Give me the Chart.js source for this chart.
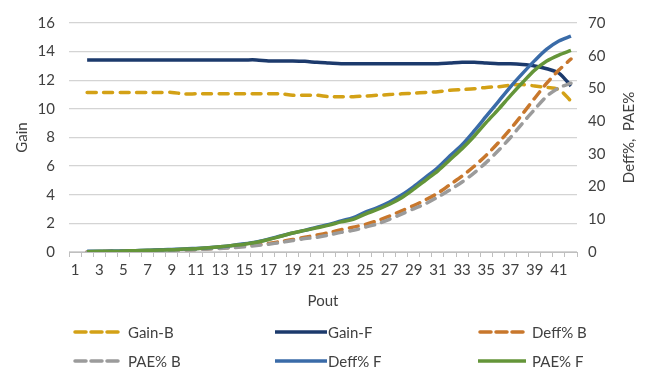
<!DOCTYPE html>
<html>
<head>
<meta charset="utf-8">
<script src="https://cdn.jsdelivr.net/npm/chart.js@4"></script>
<style>
  html, body { margin: 0; padding: 0; background: #ffffff; }
  #wrap { width: 650px; height: 372px; }
</style>
</head>
<body>
<div id="wrap"><canvas id="chart" width="650" height="372"></canvas></div>
<script>
// Output power steps (category axis)
const poutSteps = ['1','2','3','4','5','6','7','8','9','10','11','12','13','14','15','16','17','18','19','20','21',
  '22','23','24','25','26','27','28','29','30','31','32','33','34','35','36','37','38','39','40','41','42'];

// Gain (dB) — left axis; first step has no measurement
const gainB = [null, 11.15, 11.15, 11.15, 11.15, 11.15, 11.15, 11.15, 11.15, 11.05, 11.05, 11.05, 11.05, 11.05, 11.05,
  11.05, 11.05, 11.05, 10.95, 10.95, 10.95, 10.85, 10.85, 10.85, 10.9, 10.95, 11.0, 11.05, 11.1, 11.15, 11.2,
  11.3, 11.35, 11.4, 11.5, 11.55, 11.65, 11.7, 11.6, 11.5, 11.35, 10.55];
const gainF = [null, 13.42, 13.42, 13.42, 13.42, 13.42, 13.42, 13.42, 13.42, 13.42, 13.42, 13.42, 13.42, 13.42, 13.42,
  13.42, 13.35, 13.35, 13.35, 13.32, 13.25, 13.2, 13.15, 13.15, 13.15, 13.15, 13.15, 13.15, 13.15, 13.15, 13.15,
  13.2, 13.25, 13.25, 13.2, 13.15, 13.15, 13.1, 13.0, 12.8, 12.5, 11.6];

// Drain efficiency and PAE (%) — right axis
const deffB = [null, 0.1, 0.1, 0.2, 0.2, 0.3, 0.4, 0.5, 0.6, 0.7, 0.8, 1.0, 1.2, 1.5, 1.8,
  2.2, 2.6, 3.2, 3.8, 4.5, 5.2, 5.9, 6.8, 7.6, 8.4, 9.6, 11.0, 12.6, 14.2, 16.0, 18.0,
  20.6, 23.2, 26.2, 29.6, 33.4, 37.6, 42.2, 47.0, 51.6, 55.6, 59.0];
const paeB = [null, 0.1, 0.1, 0.1, 0.2, 0.2, 0.3, 0.4, 0.5, 0.6, 0.7, 0.9, 1.1, 1.3, 1.6,
  2.0, 2.4, 2.9, 3.5, 4.1, 4.5, 5.2, 6.0, 6.6, 7.6, 8.6, 10.0, 11.6, 13.2, 14.8, 16.8,
  19.0, 21.4, 24.2, 27.4, 31.0, 35.0, 39.4, 43.6, 47.6, 50.2, 51.6];
const deffF = [null, 0.2, 0.2, 0.3, 0.3, 0.4, 0.5, 0.7, 0.8, 0.9, 1.1, 1.3, 1.6, 2.0, 2.5,
  3.1, 3.9, 4.9, 5.8, 6.6, 7.6, 8.4, 9.5, 10.5, 12.2, 13.6, 15.3, 17.4, 20.0, 22.9, 25.8,
  29.4, 32.8, 37.0, 41.5, 46.0, 50.5, 54.6, 58.5, 62.0, 64.5, 66.0];
const paeF = [null, 0.1, 0.2, 0.2, 0.3, 0.4, 0.5, 0.6, 0.7, 0.9, 1.0, 1.3, 1.6, 2.0, 2.4,
  3.0, 3.8, 4.8, 5.8, 6.6, 7.4, 8.2, 9.2, 10.0, 11.6, 13.0, 14.6, 16.6, 19.2, 22.0, 24.8,
  28.2, 31.6, 35.4, 39.6, 43.6, 47.8, 51.8, 55.6, 58.4, 60.2, 61.6];

// Axis tick values
const gainTicks = [0, 2, 4, 6, 8, 10, 12, 14, 16];
const effTicks = [0, 10, 20, 30, 40, 50, 60, 70];

const FONT = 'Lato, "Liberation Sans", sans-serif';
const TEXT = '#404040';
const DASH = [9, 7.5];

function series(label, data, axis, color, dashed, order) {
  return {
    label, data, yAxisID: axis,
    borderColor: color, backgroundColor: color,
    borderWidth: 3.5,
    borderDash: dashed ? DASH : [],
    borderCapStyle: dashed ? 'round' : 'butt',
    borderJoinStyle: 'round',
    pointRadius: 0, pointHoverRadius: 0,
    tension: 0.3, spanGaps: false, fill: false,
    order
  };
}

// Legend laid out as a 3 x 2 grid under the axis title
const gridLegend = {
  id: 'gridLegend',
  afterDraw(chart) {
    const ctx = chart.ctx;
    const cols = [
      { x: 73, len: 47, text: 128 },
      { x: 275, len: 52, text: 328 },
      { x: 478, len: 48, text: 532 }
    ];
    const rows = [332, 361];
    ctx.save();
    ctx.font = '15px ' + FONT;
    ctx.textBaseline = 'middle';
    ctx.textAlign = 'left';
    chart.data.datasets.forEach((ds, i) => {
      const c = cols[i % 3];
      const y = rows[Math.floor(i / 3)];
      const dashed = ds.borderDash && ds.borderDash.length > 0;
      ctx.strokeStyle = ds.borderColor;
      ctx.lineWidth = ds.borderWidth;
      ctx.lineCap = dashed ? 'round' : 'butt';
      ctx.setLineDash(dashed ? [11, 5] : []);
      ctx.beginPath();
      if (dashed) {
        ctx.moveTo(c.x + 2, y);
        ctx.lineTo(c.x + c.len - 2, y);
      } else {
        ctx.moveTo(c.x, y);
        ctx.lineTo(c.x + c.len, y);
      }
      ctx.stroke();
      ctx.setLineDash([]);
      ctx.fillStyle = TEXT;
      ctx.fillText(ds.label, c.text, y + 1);
    });
    ctx.restore();
  }
};

// Right-hand axis title, read bottom to top
const rightTitle = {
  id: 'rightTitle',
  afterDraw(chart) {
    const ctx = chart.ctx;
    const a = chart.chartArea;
    ctx.save();
    ctx.translate(629, (a.top + a.bottom) / 2);
    ctx.rotate(-Math.PI / 2);
    ctx.font = '15px ' + FONT;
    ctx.fillStyle = TEXT;
    ctx.textAlign = 'center';
    ctx.textBaseline = 'middle';
    ctx.fillText('Deff%,  PAE%', 0, 0);
    ctx.restore();
  }
};

new Chart(document.getElementById('chart'), {
  type: 'line',
  data: {
    labels: poutSteps,
    datasets: [
      series('Gain-B', gainB, 'yGain', '#D3A116', true, 6),
      series('Gain-F', gainF, 'yGain', '#1C3A6C', false, 5),
      series('Deff% B', deffB, 'yEff', '#C8772C', true, 4),
      series('PAE% B', paeB, 'yEff', '#9B9B9B', true, 3),
      series('Deff% F', deffF, 'yEff', '#3A6BA8', false, 2),
      series('PAE% F', paeF, 'yEff', '#649539', false, 1)
    ]
  },
  options: {
    responsive: false,
    animation: false,
    devicePixelRatio: 1,
    layout: { padding: { top: 23, left: 0, right: 0, bottom: 0 } },
    plugins: {
      legend: { display: false },
      tooltip: { enabled: false }
    },
    scales: {
      x: {
        type: 'category',
        offset: true,
        grid: {
          offset: true,
          drawOnChartArea: false,
          drawTicks: true,
          tickLength: 5,
          color: '#BFBFBF',
          lineWidth: 1
        },
        border: { display: true, color: '#BFBFBF', width: 1 },
        ticks: {
          autoSkip: false,
          maxRotation: 0,
          minRotation: 0,
          padding: 4,
          color: TEXT,
          font: { family: FONT, size: 15 },
          callback(value, index) {
            return index % 2 === 0 ? this.getLabelForValue(value) : '';
          }
        },
        title: {
          display: true,
          text: 'Pout',
          color: TEXT,
          font: { family: FONT, size: 15 },
          padding: { top: 0, bottom: 62 }
        },
        afterFit(scale) { scale.height = 120; }
      },
      yGain: {
        type: 'linear',
        position: 'left',
        min: 0, max: 16,
        afterBuildTicks(scale) { scale.ticks = gainTicks.map(v => ({ value: v })); },
        grid: { color: '#D4D4D4', lineWidth: 1.3, drawTicks: false },
        border: { display: false },
        ticks: {
          padding: 14,
          color: TEXT,
          font: { family: FONT, size: 15 }
        },
        title: {
          display: true,
          text: 'Gain',
          color: TEXT,
          font: { family: FONT, size: 15 },
          padding: { top: 13, bottom: 0 }
        },
        afterFit(scale) { scale.width = 69; }
      },
      yEff: {
        type: 'linear',
        position: 'right',
        min: 0, max: 70,
        afterBuildTicks(scale) { scale.ticks = effTicks.map(v => ({ value: v })); },
        grid: { drawOnChartArea: false, drawTicks: false },
        border: { display: false },
        ticks: {
          padding: 11,
          color: TEXT,
          font: { family: FONT, size: 15 }
        },
        afterFit(scale) { scale.width = 73; }
      }
    }
  },
  plugins: [gridLegend, rightTitle]
});
</script>
</body>
</html>
